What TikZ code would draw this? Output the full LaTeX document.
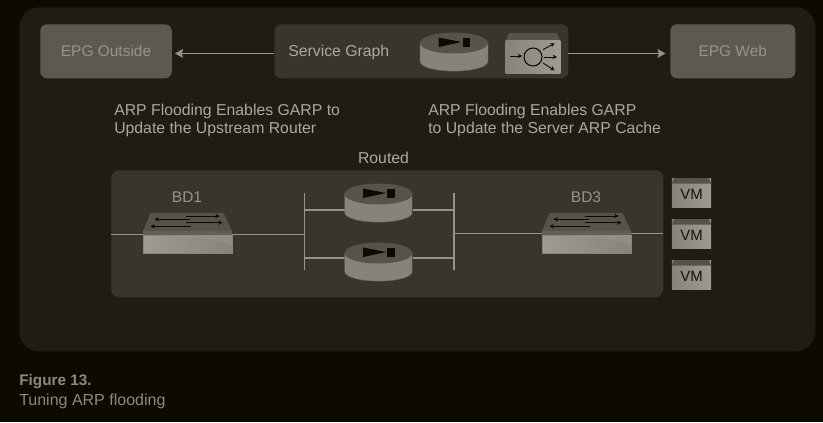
\documentclass[tikz,border=0pt]{standalone}
\usepackage{fontspec}
\setmainfont{Liberation Sans}
\usetikzlibrary{arrows.meta}
\definecolor{bgc}{HTML}{0D0A00}
\definecolor{panelc}{HTML}{1F1C12}
\definecolor{innerc}{HTML}{38352B}
\definecolor{epgc}{HTML}{5C5950}
\definecolor{linec}{HTML}{96948A}
\definecolor{textc}{HTML}{ABA99F}
\definecolor{mutedc}{HTML}{96948B}
\definecolor{capc}{HTML}{8A8880}
\definecolor{inkc}{HTML}{0C0A02}
\definecolor{iconlight}{HTML}{9E9C92}
\definecolor{iconmid}{HTML}{85837A}
\definecolor{icondark}{HTML}{625F57}
\definecolor{icontop}{HTML}{55534A}
\def\px{0.75pt}
\tikzset{
  x=0.75pt,y=-0.75pt,
  boxbase/.style={rectangle,inner sep=0pt,anchor=north west},
  outerpanel/.style={boxbase,fill=panelc,rounded corners=15pt,minimum width=796*\px,minimum height=344*\px},
  innerpanel/.style={boxbase,fill=innerc,rounded corners=6pt,minimum width=552*\px,minimum height=127*\px},
  sgbox/.style={boxbase,fill=innerc,rounded corners=5pt,minimum width=294*\px,minimum height=54*\px},
  epgbox/.style={boxbase,fill=epgc,rounded corners=5pt,minimum height=54*\px,text=mutedc,font=\fontsize{11.6}{13}\selectfont},
  lab/.style={text=textc,font=\fontsize{11.85}{13.5}\selectfont,inner sep=0pt,align=left},
  bdlab/.style={text=mutedc,font=\fontsize{11.6}{13}\selectfont,inner sep=0pt},
  vmlab/.style={text=inkc!80!innerc,font=\fontsize{11.2}{12}\selectfont,inner sep=0pt},
  captext/.style={text=capc,font=\fontsize{12}{13}\selectfont,inner sep=0pt,anchor=base west},
  wire/.style={draw=linec,line width=1.35pt},
  flow/.style={draw=linec,line width=1.35pt,-{Stealth[length=6pt,width=6.5pt,inset=1pt]}},
  swarrow/.style={draw=inkc,line width=0.6pt,-{Stealth[length=3.2pt,width=3.2pt]}},
  lbarrow/.style={draw=inkc,line width=0.65pt,-{Stealth[length=3.2pt,width=3.2pt]}},
  routerpic/.pic={
    \path[left color=iconmid,middle color=icondark!80!iconmid,right color=iconmid,draw=icondark,line width=0.3pt]
      (-34,0) -- (-34,18) .. controls (-34,31.5) and (34,31.5) .. (34,18) -- (34,0) -- cycle;
    \fill[icontop] (0,0) ellipse [x radius=34,y radius=10.5];
    \fill[inkc] (-15.3,-5.5) -- (7.5,-1) -- (-15.3,4) -- cycle;
    \fill[inkc] (8.7,-5.5) rectangle (16,4);
  },
  switchpic/.pic={
    \fill[icontop] (-44.5,0) -- (-37,-18) -- (36,-18) -- (44.5,0) -- cycle;
    \fill[icondark] (-44.5,0) rectangle (44.5,4);
    \path[left color=iconlight,middle color=icondark,right color=iconmid,draw=iconmid,line width=0.3pt] (-44.5,4) rectangle (44.5,22);
    \fill[iconlight,opacity=0.4] (-44.5,4) -- (44.5,4) -- (44.5,15) .. controls (25,6) and (-10,4) .. (-44.5,4) -- cycle;
    \draw[swarrow] (2,-11.7) -- (-33,-11.7);
    \draw[swarrow] (3,-4.7) -- (-37,-4.7);
    \draw[swarrow] (-2,-15) -- (32,-15);
    \draw[swarrow] (-2,-8.3) -- (35,-8.3);
  },
  lbpic/.pic={
    \fill[icontop] (-27.3,-16.3) -- (-24,-24) -- (24,-24) -- (27.3,-16.3) -- cycle;
    \shade[left color=iconmid,right color=iconlight] (-27.3,-16.3) rectangle (27.3,16);
    \draw[inkc,line width=0.8pt] (0,0) circle [radius=9];
    \draw[lbarrow] (-22.7,-1) -- (-11,-1);
    \draw[lbarrow] (10,-7.4) -- (21.6,-13.7);
    \draw[lbarrow] (11.3,0) -- (24,0);
    \draw[lbarrow] (10,6) -- (21.6,13.3);
  },
  vmpic/.pic={
    \shade[left color=iconmid,right color=iconlight] (-19.7,-14) rectangle (19.7,15);
    \fill[icontop] (-19.7,-9) -- (-17.5,-14.5) -- (17.5,-14.5) -- (19.7,-9) -- cycle;
  },
}
\begin{document}
\begin{tikzpicture}
\useasboundingbox (0,0) rectangle (823,422);
\fill[bgc] (0,0) rectangle (823,422);
\node[outerpanel] (outer) at (19,7) {};
\node[innerpanel] (inner) at (111,170) {};
\node[sgbox] (sg) at (274,24) {};
\node[epgbox,minimum width=131.5*\px] (out) at (40,24) {EPG Outside};
\node[epgbox,minimum width=125*\px] (web) at (670,24) {EPG Web};
\node[lab,anchor=base west] (sgl) at (288,56) {Service Graph};
\coordinate (sgw) at (274,53.5);
\coordinate (sge) at (568,53.5);
\coordinate (outp) at (175,53.5);
\coordinate (webp) at (665.5,53.5);
\draw[flow] (sgw) -- (outp);
\draw[flow] (sge) -- (webp);
\pic (fw0) at (454,43) {routerpic};
\pic (lb0) at (533,57) {lbpic};
\node[lab,anchor=north west] (t1) at (114,104) {ARP Flooding Enables GARP to\\Update the Upstream Router};
\node[lab,anchor=north west] (t2) at (428,104) {ARP Flooding Enables GARP\\to Update the Server ARP Cache};
\node[lab] (routed) at (383.5,158) {Routed};
\node[bdlab] (bd1) at (187,197) {BD1};
\node[bdlab] (bd3) at (586,197) {BD3};
\coordinate (inw) at (111,234.5);
\coordinate (ine) at (663,233.5);
\coordinate (s1w) at (143,234.5);
\coordinate (s1e) at (232,234.5);
\coordinate (s3w) at (542,233.5);
\coordinate (s3e) at (631,233.5);
\coordinate (bl) at (304.5,234.5);
\coordinate (br) at (453.7,233.5);
\coordinate (blt) at (304.5,193);
\coordinate (blb) at (304.5,270);
\coordinate (brt) at (453.7,193);
\coordinate (brb) at (453.7,270);
\coordinate (r1w) at (344.5,210);
\coordinate (r1e) at (412.5,210);
\coordinate (r2w) at (344.5,258);
\coordinate (r2e) at (412.5,258);
\draw[wire] (inw) -- (s1w);
\draw[wire] (s1e) -- (bl);
\draw[wire] (blt) -- (blb);
\draw[wire] (brt) -- (brb);
\draw[wire] (blt |- r1w) -- (r1w);
\draw[wire] (blt |- r2w) -- (r2w);
\draw[wire] (r1e) -- (brt |- r1e);
\draw[wire] (r2e) -- (brt |- r2e);
\draw[wire] (br) -- (s3w);
\draw[wire] (s3e) -- (ine);
\pic (s1) at (187.5,231) {switchpic};
\pic (s3) at (586.5,231) {switchpic};
\pic (r1) at (378.5,194) {routerpic};
\pic (r2) at (378.5,253) {routerpic};
\pic (v1) at (691.5,192.5) {vmpic};
\pic (v2) at (691.5,233.5) {vmpic};
\pic (v3) at (691.5,274.5) {vmpic};
\node[vmlab] (vm1) at (691.5,194.5) {VM};
\node[vmlab] (vm2) at (691.5,235.5) {VM};
\node[vmlab] (vm3) at (691.5,276) {VM};
\node[captext,font=\fontsize{11.5}{13}\selectfont\bfseries] (fig) at (19,385) {Figure 13.};
\node[captext] (tun) at (19,405.5) {Tuning ARP flooding};
\end{tikzpicture}
\end{document}
